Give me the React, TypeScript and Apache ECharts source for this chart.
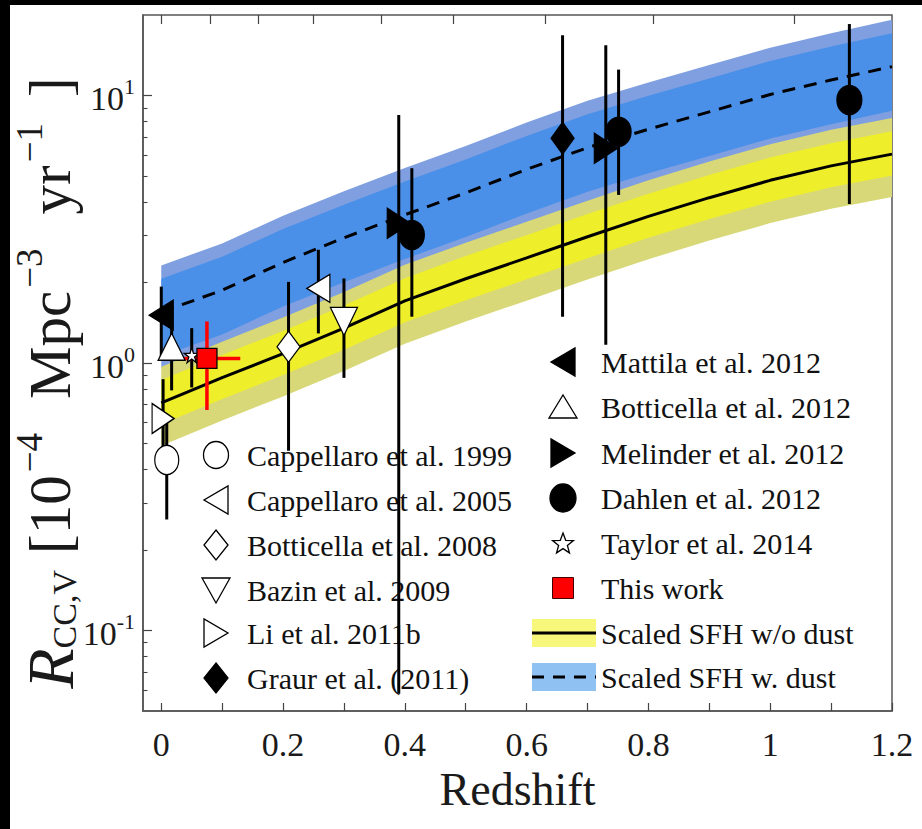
import React, { useEffect, useRef } from 'react';
import * as echarts from 'echarts';

// ---------- data ----------
const zGrid = [0, 0.1, 0.2, 0.3, 0.4, 0.5, 0.6, 0.7, 0.8, 0.9, 1.0, 1.1, 1.2];
// scaled SFH without dust (solid) and its bands
const sfhNoDust = [0.710, 0.881, 1.084, 1.349, 1.706, 2.065, 2.472, 2.965, 3.532, 4.150, 4.819, 5.458, 6.039];
const noDustOuterHi = [0.968, 1.202, 1.479, 1.841, 2.328, 2.818, 3.373, 4.046, 4.819, 5.662, 6.577, 7.447, 8.241];
const noDustInnerHi = [0.863, 1.072, 1.318, 1.641, 2.075, 2.512, 3.006, 3.606, 4.295, 5.047, 5.861, 6.637, 7.345];
const noDustInnerLo = [0.590, 0.733, 0.902, 1.122, 1.419, 1.718, 2.056, 2.466, 2.938, 3.451, 4.009, 4.539, 5.023];
const noDustOuterLo = [0.491, 0.610, 0.750, 0.933, 1.180, 1.429, 1.710, 2.051, 2.443, 2.871, 3.334, 3.776, 4.178];
// scaled SFH with dust (dashed) and its bands
const sfhDust = [1.549, 1.871, 2.377, 2.938, 3.581, 4.325, 5.297, 6.383, 7.482, 8.690, 10.09, 11.43, 12.82];
const dustOuterHi = [2.317, 2.799, 3.556, 4.385, 5.358, 6.471, 7.925, 9.550, 11.19, 13.00, 15.10, 17.10, 19.19];
const dustInnerHi = [2.065, 2.495, 3.170, 3.908, 4.775, 5.768, 7.063, 8.511, 9.977, 11.59, 13.46, 15.24, 17.10];
const dustInnerLo = [1.059, 1.279, 1.626, 2.004, 2.449, 2.958, 3.622, 4.365, 5.117, 5.943, 6.902, 7.816, 8.770];
const dustOuterLo = [0.955, 1.153, 1.466, 1.807, 2.208, 2.667, 3.266, 3.936, 4.613, 5.358, 6.223, 7.047, 7.907];

// measurements: [z, rate, low, high]
const cappellaro1999 = [[0.009, 0.434, 0.26, 0.61]];
const cappellaro2005 = [[0.258, 1.90, 1.29, 2.65]];
const botticella2008 = [[0.209, 1.15, 0.47, 2.01]];
const bazin2009 = [[0.30, 1.43, 0.88, 2.07]];
const li2011b = [[0.003, 0.62, 0.485, 0.87]];
const graur2011 = [[0.659, 6.92, 1.49, 16.8]];
const mattila2012 = [[0.0, 1.51, 1.05, 1.93]];
const botticella2012 = [[0.017, 1.15, 0.79, 1.54]];
const melinder2012 = [[0.39, 3.33, 0.058, 8.46], [0.73, 6.35, 1.17, 15.4]];
const dahlen2012 = [[0.4115, 3.01, 1.49, 5.35], [0.751, 7.32, 4.25, 12.5], [1.13, 9.62, 3.93, 18.5]];
const taylor2014 = [[0.05, 1.07, 0.81, 1.35]];
// [z, rate, low, high, zLow, zHigh]
const thisWork = [[0.075, 1.04, 0.667, 1.43, 0.0356, 0.1297]];

// axes
const xTickValues = [0, 0.1, 0.2, 0.3, 0.4, 0.5, 0.6, 0.7, 0.8, 0.9, 1, 1.1, 1.2];
const xLabelValues = [0, 0.2, 0.4, 0.6, 0.8, 1, 1.2];
const topTickValues = [0, 0.08, 0.159, 0.2496, 0.361, 0.479, 0.63, 0.808, 1.039];
const yMinorTickValues = [0.06, 0.07, 0.08, 0.09, 0.2, 0.3, 0.4, 0.5, 0.6, 0.7, 0.8, 0.9, 2, 3, 4, 5, 6, 7, 8, 9];

const leftLegendNames = ['Cappellaro et al. 1999', 'Cappellaro et al. 2005', 'Botticella et al. 2008', 'Bazin et al. 2009', 'Li et al. 2011b', 'Graur et al. (2011)'];
const rightLegendNames = ['Mattila et al. 2012', 'Botticella et al. 2012', 'Melinder et al. 2012', 'Dahlen et al. 2012', 'Taylor et al. 2014', 'This work', 'Scaled SFH w/o dust', 'Scaled SFH w. dust'];

const FONT = 'Liberation Serif';
const STAR = 'path://M50,0 L61.2,34.5 L97.6,34.5 L68.2,55.9 L79.4,90.5 L50,69.1 L20.6,90.5 L31.8,55.9 L2.4,34.5 L38.8,34.5 Z';

function bandSeries(upper: number[], lower: number[], color: string, z: number) {
  return {
    type: 'custom',
    silent: true,
    z,
    clip: true,
    data: zGrid.map((zz, i) => [zz, lower[i], upper[i]]),
    encode: { x: 0, y: [1, 2] },
    renderItem: (params: any, api: any) => {
      if (params.dataIndex !== 0) return null;
      const pts: number[][] = [];
      for (let i = 0; i < zGrid.length; i++) pts.push(api.coord([zGrid[i], upper[i]]));
      for (let i = zGrid.length - 1; i >= 0; i--) pts.push(api.coord([zGrid[i], lower[i]]));
      return { type: 'polygon', shape: { points: pts }, style: { fill: color, stroke: null } };
    },
  };
}

function scatter(name: string, rows: number[][], symbol: string, size: any, rotate: number, fill: string) {
  return {
    type: 'scatter',
    name,
    z: 6,
    data: rows.map((r) => [r[0], r[1]]),
    symbol,
    symbolSize: size,
    symbolRotate: rotate,
    itemStyle: { color: fill, borderColor: '#000', borderWidth: 1.3, opacity: 1 },
  };
}

function star(cx: number, cy: number, ro: number, ri: number) {
  const pts: number[][] = [];
  for (let k = 0; k < 10; k++) {
    const a = -Math.PI / 2 + (k * Math.PI) / 5;
    const r = k % 2 === 0 ? ro : ri;
    pts.push([cx + r * Math.cos(a), cy + r * Math.sin(a)]);
  }
  return pts;
}

function legendMarker(kind: string, cx: number, cy: number): any {
  const white = { fill: '#fff', stroke: '#000', lineWidth: 1.3 };
  const black = { fill: '#000', stroke: '#000', lineWidth: 1.3 };
  switch (kind) {
    case 'circleW': return { type: 'ellipse', shape: { cx, cy, rx: 12.5, ry: 13.5 }, style: white };
    case 'circleB': return { type: 'ellipse', shape: { cx, cy, rx: 13, ry: 14 }, style: black };
    case 'leftW': return { type: 'polygon', shape: { points: [[cx + 12, cy - 14], [cx + 12, cy + 14], [cx - 12, cy]] }, style: white };
    case 'leftB': return { type: 'polygon', shape: { points: [[cx + 12, cy - 14], [cx + 12, cy + 14], [cx - 12, cy]] }, style: black };
    case 'rightW': return { type: 'polygon', shape: { points: [[cx - 12, cy - 14], [cx - 12, cy + 14], [cx + 12, cy]] }, style: white };
    case 'rightB': return { type: 'polygon', shape: { points: [[cx - 12, cy - 14], [cx - 12, cy + 14], [cx + 12, cy]] }, style: black };
    case 'diamondW': return { type: 'polygon', shape: { points: [[cx, cy - 15], [cx + 12, cy], [cx, cy + 15], [cx - 12, cy]] }, style: white };
    case 'diamondB': return { type: 'polygon', shape: { points: [[cx, cy - 15], [cx + 12, cy], [cx, cy + 15], [cx - 12, cy]] }, style: black };
    case 'downW': return { type: 'polygon', shape: { points: [[cx - 14, cy - 12], [cx + 14, cy - 12], [cx, cy + 13]] }, style: white };
    case 'upW': return { type: 'polygon', shape: { points: [[cx - 14, cy + 11], [cx + 14, cy + 11], [cx, cy - 12]] }, style: white };
    case 'star': return { type: 'polygon', shape: { points: star(cx, cy + 1, 11, 4.6) }, style: white };
    case 'square': return { type: 'rect', shape: { x: cx - 10.5, y: cy - 10.5, width: 21, height: 21 }, style: { fill: '#ff0000', stroke: '#400', lineWidth: 1 } };
    case 'solidBand': return {
      type: 'group', children: [
        { type: 'rect', shape: { x: cx - 32, y: cy - 14, width: 64, height: 28 }, style: { fill: '#f7f77c' } },
        { type: 'line', shape: { x1: cx - 32, y1: cy, x2: cx + 32, y2: cy }, style: { stroke: '#000', lineWidth: 3 } },
      ],
    };
    case 'dashBand': return {
      type: 'group', children: [
        { type: 'rect', shape: { x: cx - 32, y: cy - 14, width: 64, height: 28 }, style: { fill: '#8fc1f2' } },
        { type: 'line', shape: { x1: cx - 32, y1: cy, x2: cx + 32, y2: cy }, style: { stroke: '#000', lineWidth: 3, lineDash: [12, 9] } },
      ],
    };
  }
  return null;
}

const leftKinds = ['circleW', 'leftW', 'diamondW', 'downW', 'rightW', 'diamondB'];
const rightKinds = ['leftB', 'upW', 'rightB', 'circleB', 'star', 'square', 'solidBand', 'dashBand'];

export default function App() {
  const ref = useRef<HTMLDivElement>(null);
  useEffect(() => {
    if (!ref.current) return;
    const chart = echarts.init(ref.current, null, { renderer: 'svg' });

    const errRows = [
      ...cappellaro1999, ...cappellaro2005, ...botticella2008, ...bazin2009, ...li2011b, ...graur2011,
      ...mattila2012, ...botticella2012, ...melinder2012, ...dahlen2012, ...taylor2014,
    ].map((r) => [r[0], r[2], r[3]]);

    const legendEls: any[] = [];
    const lRows = [450, 495, 540, 585, 628, 673];
    leftLegendNames.forEach((n, i) => {
      legendEls.push(legendMarker(leftKinds[i], 206, lRows[i]));
      legendEls.push({ type: 'text', x: 237, y: lRows[i], style: { text: n, fontFamily: FONT, fontSize: 30, fill: '#111', verticalAlign: 'middle' } });
    });
    const rRows = [357, 402, 448, 493, 538, 583, 628, 672];
    rightLegendNames.forEach((n, i) => {
      legendEls.push(legendMarker(rightKinds[i], i >= 6 ? 554 : 553, rRows[i]));
      legendEls.push({ type: 'text', x: 591, y: rRows[i], style: { text: n, fontFamily: FONT, fontSize: 30, fill: '#111', verticalAlign: 'middle' } });
    });

    const txt = '#1a1a1a';
    const option: any = {
      animation: false,
      backgroundColor: '#fff',
      textStyle: { fontFamily: FONT },
      grid: {
        left: 133, top: 10, width: 749, height: 696, containLabel: false, outerBoundsMode: 'none',
        show: true, borderColor: '#555', borderWidth: 1.5, backgroundColor: 'transparent',
      },
      xAxis: [
        {
          type: 'value', min: -0.03, max: 1.2, position: 'bottom',
          axisLine: { show: true, onZero: false, lineStyle: { color: '#555', width: 1.5 } },
          axisTick: { show: true, inside: true, length: 8, customValues: xTickValues, lineStyle: { color: '#444', width: 1.2 } },
          axisLabel: { customValues: xLabelValues, formatter: (v: number) => String(v), fontFamily: FONT, fontSize: 34, color: txt, margin: 16 },
          splitLine: { show: false },
          name: 'Redshift', nameLocation: 'middle', nameGap: 55, nameMoveOverlap: false,
          nameTextStyle: { fontFamily: FONT, fontSize: 46, color: txt },
        },
        {
          type: 'value', min: -0.03, max: 1.2, position: 'top',
          axisLine: { show: false, onZero: false },
          axisTick: { show: true, inside: true, length: 9, customValues: topTickValues, lineStyle: { color: '#444', width: 1.2 } },
          axisLabel: { show: false },
          splitLine: { show: false },
        },
      ],
      yAxis: [
        {
          type: 'log', logBase: 10, min: 0.05, max: 20, position: 'left',
          axisLine: { show: true, onZero: false, lineStyle: { color: '#555', width: 1.5 } },
          axisTick: { show: true, inside: true, length: 9, lineStyle: { color: '#444', width: 1.2 } },
          axisLabel: {
            showMinLabel: false, showMaxLabel: false, margin: 8,
            formatter: (v: number) => `{b|10}{s|${Math.round(Math.log10(v))}}`,
            rich: {
              b: { fontFamily: FONT, fontSize: 34, color: txt, lineHeight: 40, padding: [12, 0, 0, 0], verticalAlign: 'bottom' },
              s: { fontFamily: FONT, fontSize: 22, color: txt, verticalAlign: 'top', lineHeight: 26 },
            },
          },
          splitLine: { show: false },
          name: '{i|R}{sub|CC,V}{b1|[10}{sup|−4}{m|Mpc}{sup|−3}{m|yr}{sup|−1}{e|]}',
          nameLocation: 'middle', nameRotate: 90, nameGap: 54, nameMoveOverlap: false,
          nameTextStyle: {
            rich: {
              i: { fontFamily: FONT, fontStyle: 'italic', fontSize: 66, color: txt, lineHeight: 78 },
              sub: { fontFamily: FONT, fontSize: 34, color: txt, lineHeight: 78, padding: [28, 2, 0, 0] },
              b1: { fontFamily: FONT, fontSize: 59, color: txt, lineHeight: 78, padding: [0, 0, 0, 14] },
              m: { fontFamily: FONT, fontSize: 59, color: txt, lineHeight: 78, padding: [0, 0, 0, 30] },
              sup: { fontFamily: FONT, fontSize: 37, color: txt, verticalAlign: 'top', lineHeight: 42, padding: [0, 4, 0, 3] },
              e: { fontFamily: FONT, fontSize: 59, color: txt, lineHeight: 78, padding: [0, 40, 0, 22] },
            },
          },
        },
        {
          type: 'value', min: Math.log10(0.05), max: Math.log10(20), position: 'left',
          axisLine: { show: false, onZero: false },
          axisTick: { show: true, inside: true, length: 4.5, customValues: yMinorTickValues.map((v) => Math.log10(v)), lineStyle: { color: '#444', width: 1.1 } },
          axisLabel: { show: false },
          splitLine: { show: false },
        },
      ],
      graphic: { elements: legendEls },
      series: [
        bandSeries(dustOuterHi, dustOuterLo, '#7f9fe0', 1),
        bandSeries(dustInnerHi, dustInnerLo, '#4a90e8', 1),
        bandSeries(noDustOuterHi, noDustOuterLo, '#d8d878', 1),
        bandSeries(noDustInnerHi, noDustInnerLo, '#eeef2a', 1),
        {
          type: 'line', name: 'Scaled SFH w/o dust', z: 3, symbol: 'none', silent: true,
          data: zGrid.map((z, i) => [z, sfhNoDust[i]]),
          lineStyle: { color: '#000', width: 3 },
        },
        {
          type: 'line', name: 'Scaled SFH w. dust', z: 3, symbol: 'none', silent: true,
          data: zGrid.map((z, i) => [z, sfhDust[i]]),
          lineStyle: { color: '#000', width: 3, type: [13, 9] },
        },
        {
          type: 'custom', name: 'errors', z: 4, silent: true,
          data: errRows,
          encode: { x: 0, y: [1, 2] },
          renderItem: (params: any, api: any) => {
            const p1 = api.coord([api.value(0), api.value(1)]);
            const p2 = api.coord([api.value(0), api.value(2)]);
            return { type: 'line', shape: { x1: p1[0], y1: p1[1], x2: p2[0], y2: p2[1] }, style: { stroke: '#000', lineWidth: 3 } };
          },
        },
        {
          type: 'custom', name: 'thisWorkErr', z: 4, silent: true,
          data: thisWork,
          encode: { x: [0, 4, 5], y: [1, 2, 3] },
          renderItem: (params: any, api: any) => {
            const a = api.coord([api.value(0), api.value(2)]);
            const b = api.coord([api.value(0), api.value(3)]);
            const c = api.coord([api.value(4), api.value(1)]);
            const d = api.coord([api.value(5), api.value(1)]);
            return {
              type: 'group', children: [
                { type: 'line', shape: { x1: a[0], y1: a[1], x2: b[0], y2: b[1] }, style: { stroke: '#ff0000', lineWidth: 3.5 } },
                { type: 'line', shape: { x1: c[0], y1: c[1], x2: d[0], y2: d[1] }, style: { stroke: '#ff0000', lineWidth: 3.5 } },
              ],
            };
          },
        },
        scatter('Cappellaro et al. 1999', cappellaro1999, 'circle', [24, 29], 0, '#fff'),
        scatter('Li et al. 2011b', li2011b, 'triangle', [30, 22], -90, '#fff'),
        scatter('Mattila et al. 2012', mattila2012, 'triangle', [30, 24], 90, '#000'),
        scatter('Botticella et al. 2012', botticella2012, 'triangle', [27, 27], 0, '#fff'),
        scatter('Taylor et al. 2014', taylor2014, STAR, 15, 0, '#fff'),
        scatter('This work', thisWork, 'rect', 20, 0, '#ff0000'),
        scatter('Botticella et al. 2008', botticella2008, 'diamond', [23, 31], 0, '#fff'),
        scatter('Cappellaro et al. 2005', cappellaro2005, 'triangle', [28, 23], 90, '#fff'),
        scatter('Bazin et al. 2009', bazin2009, 'triangle', [27, 28], 180, '#fff'),
        scatter('Melinder et al. 2012', melinder2012, 'triangle', [30, 23], -90, '#000'),
        scatter('Dahlen et al. 2012', dahlen2012, 'circle', [25, 29], 0, '#000'),
        scatter('Graur et al. (2011)', graur2011, 'diamond', [23, 32], 0, '#000'),
      ],
    };
    chart.setOption(option);
    return () => chart.dispose();
  }, []);

  return (
    <div style={{ position: 'fixed', left: 0, top: 0, width: 922, height: 829, background: '#000' }}>
      <div ref={ref} style={{ position: 'absolute', left: 10, top: 5, width: 912, height: 824, background: '#fff' }} />
    </div>
  );
}
